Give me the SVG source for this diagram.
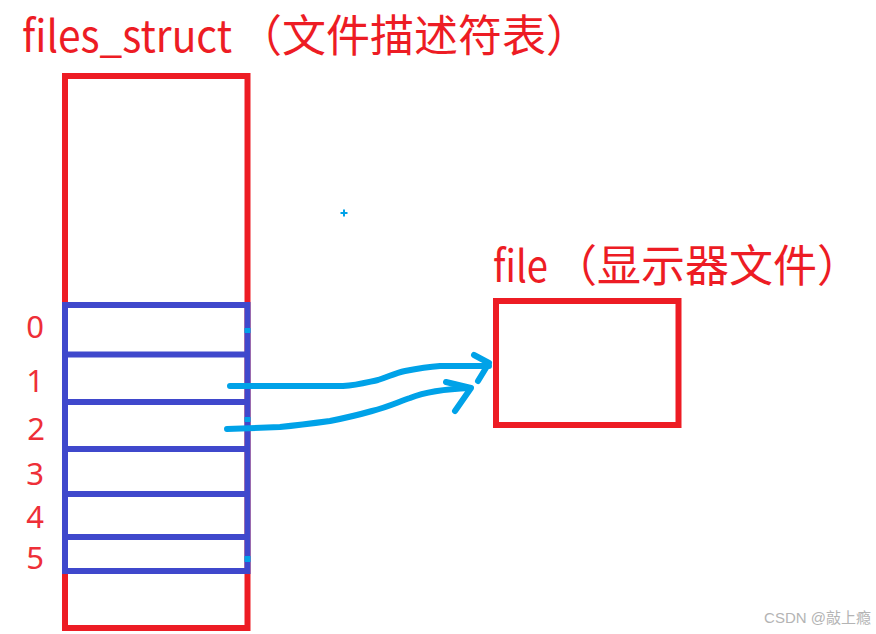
<svg xmlns="http://www.w3.org/2000/svg" width="876" height="634" viewBox="0 0 876 634">
  <style>
    .lbl { font-family: "Microsoft YaHei", "Noto Sans CJK SC", "Noto Sans", sans-serif; fill: #ED1C24; }
    .big { font-size: 44px; }
    .idx { font-family: "Noto Sans", sans-serif; font-size: 31px; text-anchor: middle; fill: #EE2F38; }
    .red { fill: none; stroke: #ED1C24; stroke-width: 6; }
    .blue { fill: none; stroke: #3F48CC; stroke-width: 6; }
    .arrow { fill: none; stroke: #00A2E8; stroke-width: 6; stroke-linecap: round; stroke-linejoin: round; }
    .mark { fill: #00A2E8; }
    .wm { font-family: "Liberation Sans", "Noto Sans CJK SC", sans-serif; font-size: 15px; fill: #B4B4B4; }
  </style>
  <rect width="876" height="634" fill="#FFFFFF"/>

  <g id="files_struct">
    <text class="lbl big" x="22" y="52" textLength="210" lengthAdjust="spacingAndGlyphs">files_struct</text>
    <text class="lbl big" x="238" y="52">（文件描述符表）</text>
    <rect class="red" x="65" y="76" width="182.5" height="552"/>
  </g>

  <g id="fd_table">
    <rect class="blue" x="65" y="305" width="182.5" height="266"/>
    <line class="blue" x1="65" y1="354.5" x2="247.5" y2="354.5"/>
    <line class="blue" x1="65" y1="402" x2="247.5" y2="402"/>
    <line class="blue" x1="65" y1="449" x2="247.5" y2="449"/>
    <line class="blue" x1="65" y1="494" x2="247.5" y2="494"/>
    <line class="blue" x1="65" y1="537" x2="247.5" y2="537"/>
    <text class="idx" x="35" y="338">0</text>
    <text class="idx" x="35" y="392">1</text>
    <text class="idx" x="36" y="440">2</text>
    <text class="idx" x="35" y="485">3</text>
    <text class="idx" x="35" y="528">4</text>
    <text class="idx" x="35" y="569">5</text>
  </g>

  <g id="file">
    <text class="lbl big" x="493" y="282" textLength="55" lengthAdjust="spacingAndGlyphs">file</text>
    <text class="lbl big" x="553" y="282">（显示器文件）</text>
    <rect class="red" x="496" y="301" width="182.5" height="124"/>
  </g>

  <g id="connectors">
    <path class="arrow" d="M230,386 L343,386 C358,385 368,382 378,380 C388,377 395,373 405,371 C415,369 425,367 440,366 L489,366"/>
    <path class="arrow" d="M474,355 L489,363 L478,381"/>
    <path class="arrow" d="M227,429 L280,427 C300,425 315,423 330,421 C345,418 358,415 372,411 C388,407 398,402 410,398 C425,392 445,389 470,388"/>
    <path class="arrow" d="M446,382 L471,388 L455,411"/>
  </g>

  <g id="marks">
    <rect class="mark" x="244.5" y="328" width="6" height="5"/>
    <rect class="mark" x="244.5" y="417" width="6" height="5"/>
    <rect class="mark" x="244.5" y="556" width="6" height="6"/>
    <rect class="mark" x="340.5" y="212" width="7" height="2"/>
    <rect class="mark" x="343" y="209.5" width="2" height="7"/>
  </g>

  <text class="wm" x="871" y="623" text-anchor="end">CSDN @敲上瘾</text>
</svg>
